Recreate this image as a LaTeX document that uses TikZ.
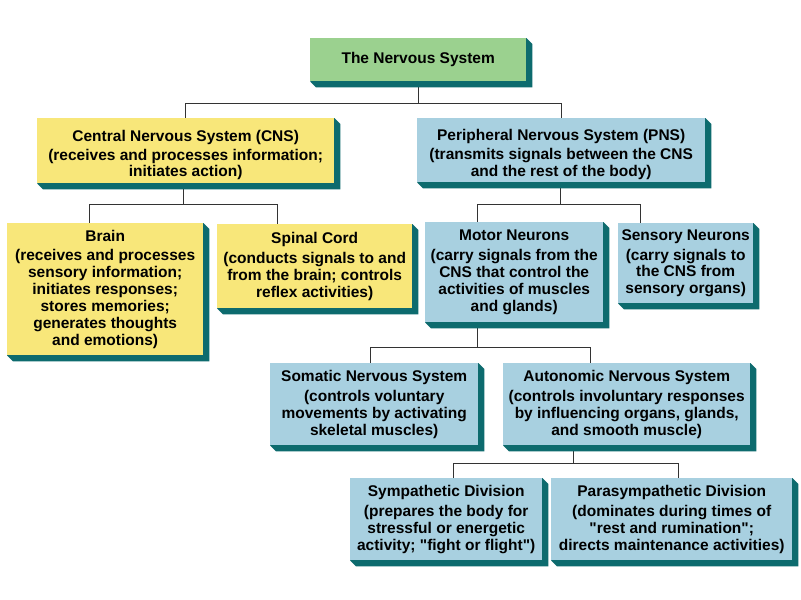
\documentclass[tikz,border=0pt]{standalone}
\usepackage{fontspec}
\setmainfont{Liberation Sans}
\usetikzlibrary{calc}
\pgfdeclarelayer{paper}
\pgfdeclarelayer{lines}
\pgfdeclarelayer{background}
\pgfsetlayers{paper,lines,background,main}
\definecolor{boxyellow}{HTML}{F8E77A}
\definecolor{boxblue}{HTML}{A8D0E0}
\definecolor{boxgreen}{HTML}{9BD18F}
\definecolor{shadowc}{HTML}{0D6B6E}
\definecolor{linec}{HTML}{333333}
\tikzset{
  box/.style={anchor=north west, inner sep=0pt, align=center,
    font={\fontsize{15.5}{16.9}\selectfont\bfseries}},
  ybox/.style={box, fill=boxyellow},
  bbox/.style={box, fill=boxblue},
  gbox/.style={box, fill=boxgreen},
  conn/.style={draw=linec, line width=1pt},
}
\newcommand\boxshadow[1]{%
  \begin{pgfonlayer}{background}
  \fill[shadowc] (#1.north east) -- ++(6,6) |- ($(#1.south west)+(6,6)$) -- (#1.south west) -- cycle;
  \end{pgfonlayer}}
\newcommand\qq{\textquotedbl}
\newcommand\lowerstrut{\rule{0pt}{20pt}}
\begin{document}
\begin{tikzpicture}[x=1pt,y=-1pt]
\useasboundingbox (0,0) rectangle (801,600);
\begin{pgfonlayer}{paper}
\fill[white] (0,0) rectangle (801,600);
\end{pgfonlayer}

\node[gbox, minimum width=216pt, minimum height=43pt] (title) at (310,38) {The Nervous System};
\node[ybox, minimum width=297pt, minimum height=65pt] (cns) at (37,118)
  {\lowerstrut Central Nervous System (CNS)\\[2pt](receives and processes information;\\initiates action)};
\node[bbox, minimum width=288pt, minimum height=64pt] (pns) at (417,118)
  {\lowerstrut Peripheral Nervous System (PNS)\\[2pt](transmits signals between the CNS\\and the rest of the body)};
\node[ybox, minimum width=196pt, minimum height=132pt] (brain) at (7,223)
  {Brain\\[3pt](receives and processes\\sensory information;\\initiates responses;\\stores memories;\\generates thoughts\\and emotions)};
\node[ybox, minimum width=195pt, minimum height=84pt] (spinal) at (217,224)
  {Spinal Cord\\[3pt](conducts signals to and\\from the brain; controls\\reflex activities)};
\node[bbox, minimum width=178pt, minimum height=100pt] (motor) at (425,222)
  {Motor Neurons\\[3pt](carry signals from the\\CNS that control the\\activities of muscles\\and glands)};
\node[bbox, minimum width=135pt, minimum height=80pt] (sensory) at (618,223)
  {Sensory Neurons\\[3pt](carry signals to\\the CNS from\\sensory organs)};
\node[bbox, minimum width=208pt, minimum height=82pt] (somatic) at (270,363)
  {Somatic Nervous System\\[3pt](controls voluntary\\movements by activating\\skeletal muscles)};
\node[bbox, minimum width=247pt, minimum height=82pt] (auto) at (503,363)
  {Autonomic Nervous System\\[3pt](controls involuntary responses\\by influencing organs, glands,\\and smooth muscle)};
\node[bbox, minimum width=192pt, minimum height=82pt] (symp) at (350,478)
  {Sympathetic Division\\[3pt](prepares the body for\\stressful or energetic\\activity; \qq fight or flight\qq)};
\node[bbox, minimum width=241pt, minimum height=82pt] (para) at (551,478)
  {Parasympathetic Division\\[3pt](dominates during times of\\\qq rest and rumination\qq;\\directs maintenance activities)};

\foreach \n in {title,cns,pns,brain,spinal,motor,sensory,somatic,auto,symp,para}{\boxshadow{\n}}

\begin{pgfonlayer}{lines}
\draw[conn] (title.south) -- ++(0,22);
\draw[conn] (cns.north) -- ++(0,-15) -| (pns.north);
\draw[conn] ([xshift=-2pt]cns.south) -- ++(0,21);
\draw[conn] ([xshift=-16pt]brain.north) -- ++(0,-19) -| ([xshift=-37.5pt]spinal.north);
\draw[conn] ([xshift=-1pt]pns.south) -- ++(0,22);
\draw[conn] ([xshift=-37pt]motor.north) -- ++(0,-18) -| ([xshift=-45.5pt]sensory.north);
\draw[conn] ([xshift=-37pt]motor.south) -- ++(0,25);
\draw[conn] ([xshift=-4pt]somatic.north) -- ++(0,-16) -| ([xshift=-36.5pt]auto.north);
\draw[conn] ([xshift=-53.5pt]auto.south) -- ++(0,18);
\draw[conn] ([xshift=7pt]symp.north) -- ++(0,-15) -| ([xshift=6.5pt]para.north);
\end{pgfonlayer}
\end{tikzpicture}
\end{document}
